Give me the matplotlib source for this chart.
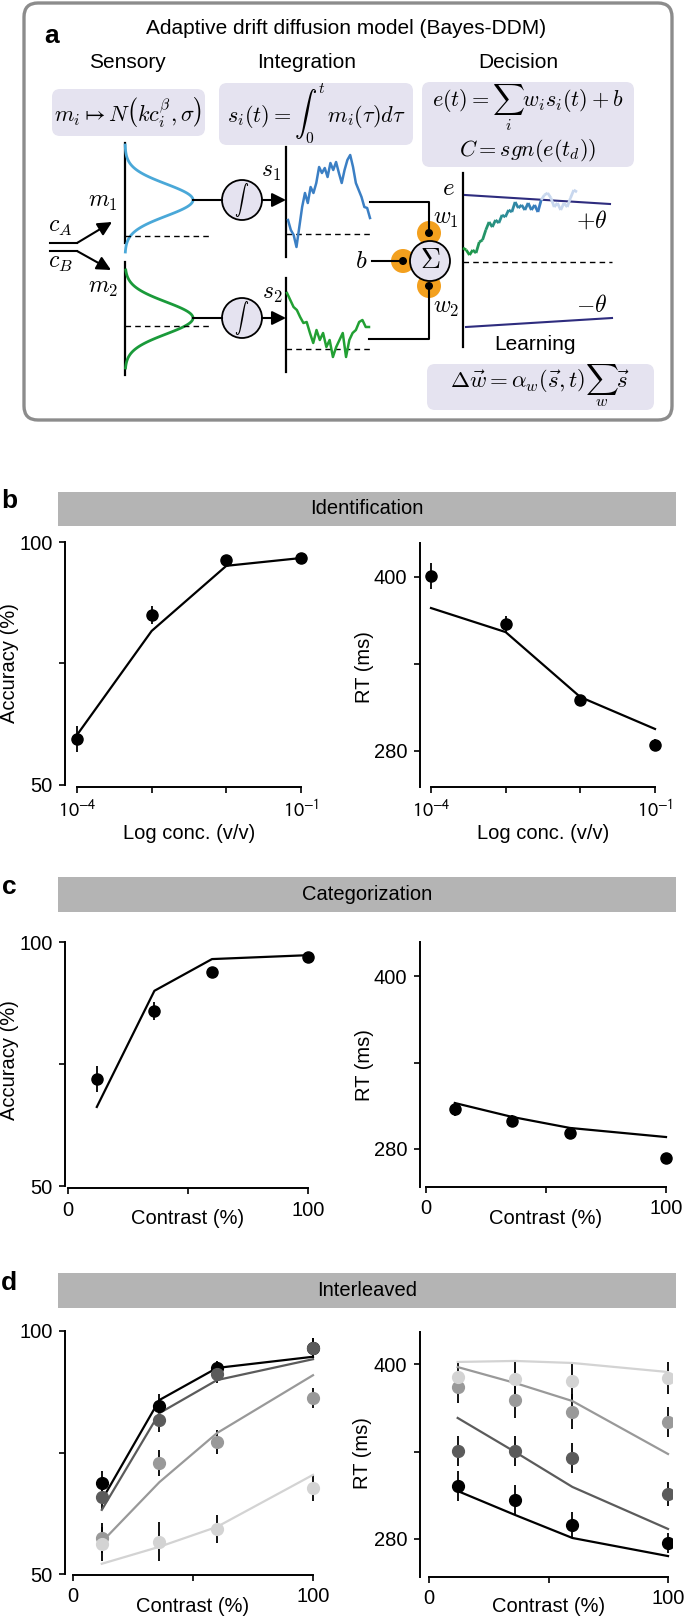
import matplotlib
matplotlib.use('Agg')
import matplotlib.pyplot as plt
import numpy as np
from matplotlib.patches import FancyBboxPatch, Circle, Rectangle
from matplotlib.collections import LineCollection
from matplotlib.colors import LinearSegmentedColormap

plt.rcParams['font.family'] = ['Liberation Sans', 'DejaVu Sans']
plt.rcParams['mathtext.fontset'] = 'cm'

# ---------------- data ----------------
conc = [1e-4, 1e-3, 1e-2, 1e-1]
conc_labels = ['$10^{-4}$', '', '', '$10^{-1}$']
contrast = [12, 36, 60, 100]

ident_acc = [59.5, 85.0, 96.3, 96.7]
ident_acc_err = [2.7, 1.8, 0.8, 0.6]
ident_acc_fit = [60.3, 81.7, 95.1, 96.7]
ident_rt = [400.7, 367.6, 315.2, 284.1]
ident_rt_err = [9.0, 5.5, 3.5, 4.0]
ident_rt_fit = [378.6, 362.0, 317.2, 295.2]

categ_acc = [71.9, 85.9, 93.9, 96.9]
categ_acc_err = [2.6, 1.8, 0.8, 0.5]
categ_acc_fit = [66.2, 90.0, 96.5, 97.3]
categ_rt = [307.7, 299.4, 291.0, 273.8]
categ_rt_err = [5.0, 4.0, 4.0, 2.0]
categ_rt_fit = [311.9, 302.2, 294.6, 288.3]

# interleaved blocks: black, dark grey, mid grey, light grey
inter_colors = ['#000000', '#5b5b5b', '#999999', '#d3d3d3']
inter_acc = [[68.7, 84.6, 92.4, 96.5],
             [65.8, 81.7, 91.2, 96.5],
             [57.4, 72.8, 77.2, 86.2],
             [56.2, 56.6, 59.3, 67.7]]
inter_acc_err = [[2.5, 2.5, 1.5, 2.0],
                 [2.5, 2.5, 2.0, 2.0],
                 [3.0, 2.7, 2.5, 2.0],
                 [3.5, 4.0, 2.9, 2.7]]
inter_acc_fit = [[65.2, 85.8, 92.4, 94.7],
                 [63.2, 83.1, 89.9, 94.2],
                 [56.6, 68.9, 79.0, 90.9],
                 [52.1, 55.6, 59.7, 70.4]]
inter_rt = [[316.3, 306.7, 289.6, 277.3],
            [340.3, 340.3, 335.5, 310.9],
            [384.2, 375.3, 367.1, 360.2],
            [391.1, 389.7, 388.3, 390.4]]
inter_rt_err = [[10, 10, 9, 7],
                [10, 10, 10, 8],
                [11, 12, 12, 10],
                [11, 12, 12, 11]]
inter_rt_fit = [[312.9, 296.5, 280.7, 268.3],
                [363.0, 339.7, 315.7, 286.9],
                [397.9, 387.0, 374.6, 338.3],
                [401.4, 402.1, 400.7, 394.5]]

# schematic traces (height above the dashed baseline, px)
s1_trace = [14, 4, -1, -13, 7, 27, 41, 31, 47, 41, 51, 67, 61, 66, 57, 71, 64, 72,
            61, 51, 64, 74, 79, 67, 51, 44, 37, 27, 26, 16]
s2_trace = [56, 49, 42, 39, 32, 26, 27, 16, 6, 19, 9, 16, 2, 9, -8, 2, 9, 16, -8,
            9, 16, 19, 27, 29, 22, 22]
e_trace = [14, 12, 7, 12, 9, 20, 22, 32, 40, 35, 42, 39, 47, 45, 52, 50, 60, 54,
           57, 52, 59, 52, 57, 50, 62, 67, 69, 64, 55, 59, 52, 59, 55, 64, 72, 70]
e_cross = 25

# ---------------- figure ----------------
W, H = 685, 1621
fig = plt.figure(figsize=(W / 100, H / 100), dpi=100)

LAV = '#e5e3f0'
ORANGE = '#f3a01e'
NAVY = '#2e2c7e'
HEAD = '#b4b4b4'
FS = 14.5

ov = fig.add_axes([0, 0, 1, 1])
ov.set_xlim(0, W)
ov.set_ylim(H, 0)
ov.axis('off')


def mtext(x, y, s, size=16, **kw):
    ov.text(x, y, s, ha='center', va='center', size=size, math_fontfamily='cm', **kw)


def rbox(x0, y0, x1, y1, r=8, **kw):
    ov.add_patch(FancyBboxPatch((x0, y0), x1 - x0, y1 - y0,
                                boxstyle='round,pad=0,rounding_size=%d' % r, **kw))


def arrow(x0, y0, x1, y1):
    ov.annotate('', xy=(x1, y1), xytext=(x0, y0),
                arrowprops=dict(arrowstyle='-|>,head_length=0.7,head_width=0.35',
                                color='k', lw=1.5, shrinkA=0, shrinkB=0,
                                mutation_scale=12))


# panel a frame
rbox(24, 3, 672, 420, r=14, facecolor='white', edgecolor='#8c8c8c', lw=2.4)
ov.text(52, 36, 'a', ha='center', va='center', size=19, weight='bold')
ov.text(346, 29, 'Adaptive drift diffusion model (Bayes-DDM)', ha='center', va='center', size=15)
for x, t in [(127, 'Sensory'), (307, 'Integration'), (518, 'Decision')]:
    ov.text(x, 62, t, ha='center', va='center', size=15)

rbox(52, 89, 205, 136, facecolor=LAV, edgecolor='none')
rbox(219, 83, 413, 145, facecolor=LAV, edgecolor='none')
rbox(422, 82, 634, 167, facecolor=LAV, edgecolor='none')
rbox(427, 364, 654, 410, facecolor=LAV, edgecolor='none')
mtext(128, 112, r'$m_i \mapsto N\left(kc_i^{\beta}, \sigma\right)$', size=16)
mtext(316, 114, r'$s_i(t) = \int_0^t\, m_i(\tau)d\tau$', size=16)
mtext(528, 108, r'$e(t) = \sum_i w_i s_i(t) + b$', size=16)
mtext(528, 150, r'$C = sgn\left(e(t_d)\right)$', size=16)
mtext(540, 386, r'$\Delta\vec{w} = \alpha_w\left(\vec{s}, t\right)\sum_w \vec{s}$', size=16.5)

# sensory gaussians
for yc, col, ytop, ybot, ax_top, ax_bot in [(200, '#4aa8d8', 145, 252, 143, 243),
                                            (318, '#1a9a3a', 270, 368, 262, 375)]:
    ov.plot([125, 125], [ax_top, ax_bot], color='k', lw=1.6)
    yy = np.linspace(ytop, ybot, 120)
    ov.plot(125 + 68 * np.exp(-(yy - yc) ** 2 / (2 * 16 ** 2)), yy, color=col, lw=2)
    ov.plot([193, 222], [yc, yc], color='k', lw=1.5)
    ov.add_patch(Circle((242, yc), 20, facecolor=LAV, edgecolor='k', lw=1.3))
    mtext(242, yc, r'$\int$', size=10)
    arrow(262, yc, 286, yc)

ov.plot([125, 212], [236, 236], color='k', lw=1, ls=(0, (4, 3)))
ov.plot([125, 212], [326, 326], color='k', lw=1, ls=(0, (4, 3)))
mtext(103, 202, r'$m_1$', size=17)
mtext(103, 288, r'$m_2$', size=17)

# stimulus inputs
ov.plot([50, 77], [243, 243], color='k', lw=1.5)
ov.plot([50, 77], [251, 251], color='k', lw=1.5)
arrow(77, 243, 112, 222)
arrow(77, 251, 111, 270)
mtext(60, 227, r'$c_A$', size=17)
mtext(60, 263, r'$c_B$', size=17)

# integrators
ov.plot([286, 286], [147, 257], color='k', lw=1.6)
ov.plot([286, 286], [278, 372], color='k', lw=1.6)
ov.plot([286, 372], [234, 234], color='k', lw=1, ls=(0, (4, 3)))
ov.plot([286, 372], [349, 349], color='k', lw=1, ls=(0, (4, 3)))
ov.plot(np.linspace(288, 370, len(s1_trace)), 234 - np.array(s1_trace), color='#3b7fc4', lw=1.8)
ov.plot(np.linspace(287, 369, len(s2_trace)), 349 - np.array(s2_trace), color='#22a033', lw=1.8)
mtext(271, 172, r'$s_1$', size=17)
mtext(272, 294, r'$s_2$', size=17)

# summation node
ov.plot([370, 429, 429], [202, 202, 233], color='k', lw=1.5)
ov.plot([369, 429, 429], [339, 339, 286], color='k', lw=1.5)
ov.plot([372, 403], [261, 261], color='k', lw=1.5)
for nx, ny in [(429, 233), (403, 261), (429, 286)]:
    ov.add_patch(Circle((nx, ny), 12, facecolor=ORANGE, edgecolor='none'))
ov.add_patch(Circle((430, 261), 20, facecolor=LAV, edgecolor='k', lw=1.3))
for nx, ny in [(429, 233), (403, 261), (429, 286)]:
    ov.add_patch(Circle((nx, ny), 4, facecolor='k', edgecolor='none', zorder=3))
mtext(430, 261, r'$\Sigma$', size=20)
mtext(446, 219, r'$w_1$', size=17)
mtext(446, 308, r'$w_2$', size=17)
mtext(361, 261, r'$b$', size=18)

# decision
ov.plot([463, 463], [173, 347], color='k', lw=1.6)
ov.plot([463, 612], [262, 262], color='k', lw=1, ls=(0, (4, 3)))
ov.plot([465, 610], [195, 204], color=NAVY, lw=1.5)
ov.plot([466, 612], [327, 318], color=NAVY, lw=1.5)
e_pts = np.column_stack([np.linspace(463, 577, len(e_trace)), 262 - np.array(e_trace)])
segs = np.stack([e_pts[:-1], e_pts[1:]], axis=1)
ev_cmap = LinearSegmentedColormap.from_list('ev', ['#1d9a3a', '#2b8f93', '#3a7cc2'])
seg_cols = [ev_cmap(i / (e_cross - 2)) if i < e_cross - 1 else '#c8d7ee' for i in range(len(segs))]
ov.add_collection(LineCollection(segs, colors=seg_cols, linewidths=2))
mtext(448, 188, r'$e$', size=18)
mtext(592, 221, r'$+\theta$', size=17)
mtext(592, 306, r'$-\theta$', size=17)
ov.text(535, 345, 'Learning', ha='center', va='center', size=15)

# section headers b, c, d
for lab, title, y0, y1 in [('b', 'Identification', 492, 526),
                           ('c', 'Categorization', 877, 912),
                           ('d', 'Interleaved', 1273, 1308)]:
    ov.add_patch(Rectangle((58, y0), 618, y1 - y0, facecolor=HEAD, edgecolor='none'))
    ov.text(367, (y0 + y1) / 2, title, ha='center', va='center', size=FS)
    ov.text(9, (y0 + y1) / 2 - 8, lab, ha='center', va='center', size=19, weight='bold')


# ---------------- data panels ----------------
def lims(anchor, e0, e1, log=False):
    (v0, p0), (v1, p1) = anchor
    if log:
        v0, v1 = np.log10(v0), np.log10(v1)
    s = (v1 - v0) / (p1 - p0)
    lo, hi = v0 + (e0 - p0) * s, v0 + (e1 - p0) * s
    return (10 ** lo, 10 ** hi) if log else (lo, hi)


def data_axes(box, xa, ya, xlog=False):
    l, t, r, b = box
    ax = fig.add_axes([l / W, 1 - b / H, (r - l) / W, (b - t) / H])
    ax.patch.set_alpha(0)
    if xlog:
        ax.set_xscale('log')
    ax.set_xlim(*lims(xa, l, r, xlog))
    ax.set_ylim(*lims(ya, b, t))
    return ax


def style(ax, xticks, xlabels, yticks, ylabels, xlabel, xlab_pos, ylabel=None, ylab_pos=None,
          ybounds=None):
    for s in ['top', 'right']:
        ax.spines[s].set_visible(False)
    for s in ['left', 'bottom']:
        ax.spines[s].set_linewidth(1.4)
    ax.spines['bottom'].set_bounds(xticks[0], xticks[-1])
    if ybounds:
        ax.spines['left'].set_bounds(*ybounds)
    ax.set_xticks(xticks)
    ax.set_xticklabels(xlabels)
    ax.minorticks_off()
    ax.set_yticks(yticks)
    ax.set_yticklabels(ylabels)
    ax.tick_params(direction='out', length=4.5, width=1.2, labelsize=FS, pad=4.5)
    for lbl in ax.get_xticklabels():
        lbl.set_math_fontfamily('stixsans')
    ax.set_xlabel(xlabel, size=FS, va='center')
    ax.xaxis.set_label_coords(xlab_pos[0] / W, 1 - xlab_pos[1] / H, transform=fig.transFigure)
    if ylabel:
        ax.set_ylabel(ylabel, size=FS, va='center')
        ax.yaxis.set_label_coords(ylab_pos[0] / W, 1 - ylab_pos[1] / H, transform=fig.transFigure)


def single(ax, x, y, err, fit):
    ax.errorbar(x, y, yerr=err, fmt='none', ecolor='k', elinewidth=1.3, zorder=2)
    ax.plot(x, fit, color='k', lw=1.6, zorder=3)
    ax.plot(x, y, 'o', color='k', ms=8, zorder=4)


def multi(ax, x, ys, errs, fits):
    for y, e in zip(ys, errs):
        ax.errorbar(x, y, yerr=e, fmt='none', ecolor='k', elinewidth=1.3, zorder=2)
    for f, c in zip(fits, inter_colors):
        ax.plot(x, f, color=c, lw=1.6, zorder=3)
    for y, c in zip(ys, inter_colors):
        ax.plot(x, y, 'o', color=c, ms=8.5, zorder=4)


acc_ticks, acc_labels = [50, 75, 100], ['50', '', '100']
rt_ticks, rt_labels = [280, 340, 400], ['280', '', '400']
con_ticks, con_labels = [0, 50, 100], ['0', '', '100']

# b: identification
ax = data_axes((65, 538, 312, 787), ((1e-4, 77), (1e-1, 301)), ((50, 785), (100, 542)), xlog=True)
single(ax, conc, ident_acc, ident_acc_err, ident_acc_fit)
style(ax, conc, conc_labels, acc_ticks, acc_labels, 'Log conc. (v/v)', (189, 833),
      'Accuracy (%)', (10, 663), ybounds=(50, 100))

ax = data_axes((420, 543, 668, 787), ((1e-4, 431), (1e-1, 655)), ((280, 751), (400, 577)), xlog=True)
single(ax, conc, ident_rt, ident_rt_err, ident_rt_fit)
style(ax, conc, conc_labels, rt_ticks, rt_labels, 'Log conc. (v/v)', (543, 833),
      'RT (ms)', (364, 667))

# c: categorization
ax = data_axes((65, 935, 318, 1188), ((0, 68), (100, 308)), ((50, 1186), (100, 942)))
single(ax, contrast, categ_acc, categ_acc_err, categ_acc_fit)
style(ax, con_ticks, con_labels, acc_ticks, acc_labels, 'Contrast (%)', (188, 1219),
      'Accuracy (%)', (10, 1060), ybounds=(50, 100))

ax = data_axes((420, 942, 672, 1187), ((0, 426), (100, 666)), ((280, 1149), (400, 976)))
single(ax, contrast, categ_rt, categ_rt_err, categ_rt_fit)
style(ax, con_ticks, con_labels, rt_ticks, rt_labels, 'Contrast (%)', (546, 1219),
      'RT (ms)', (364, 1065))

# d: interleaved
ax = data_axes((65, 1325, 322, 1575), ((0, 73), (100, 313)), ((50, 1574), (100, 1331)))
multi(ax, contrast, inter_acc, inter_acc_err, inter_acc_fit)
style(ax, con_ticks, con_labels, acc_ticks, acc_labels, 'Contrast (%)', (193, 1606),
      ybounds=(50, 100))

ax = data_axes((420, 1332, 672, 1577), ((0, 429), (100, 668)), ((280, 1539), (400, 1364)))
multi(ax, contrast, inter_rt, inter_rt_err, inter_rt_fit)
style(ax, con_ticks, con_labels, rt_ticks, rt_labels, 'Contrast (%)', (549, 1606),
      'RT (ms)', (363, 1453))

fig.savefig('out.png', dpi=100)
